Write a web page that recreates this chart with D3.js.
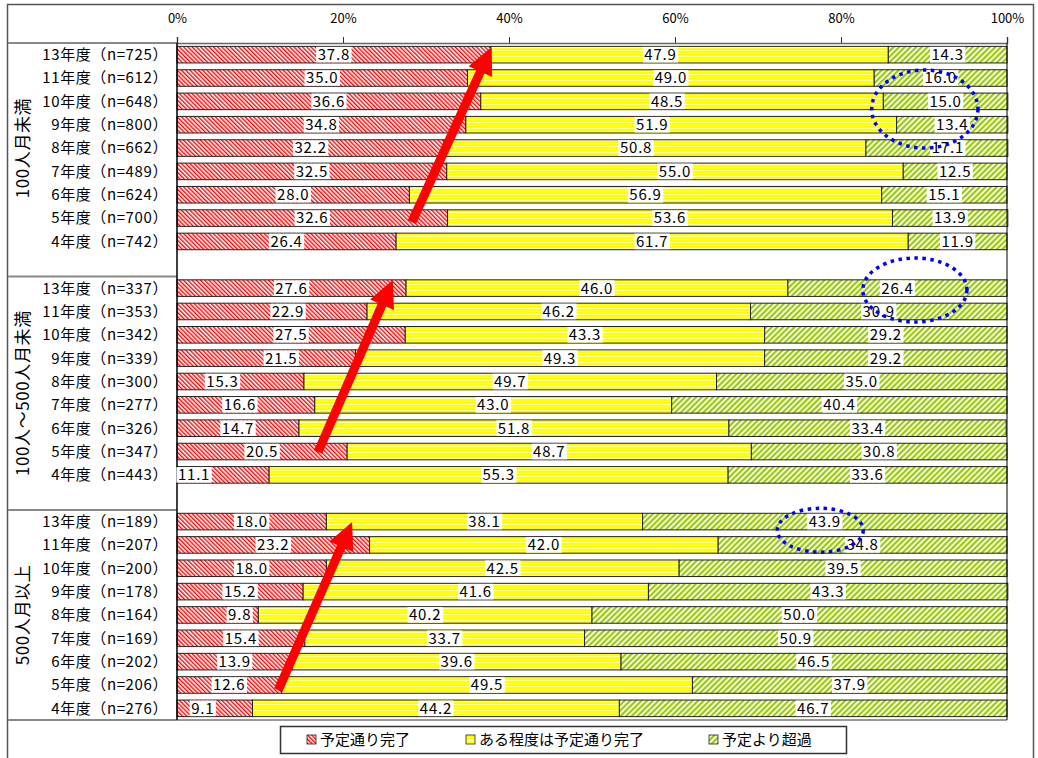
<!DOCTYPE html>
<html>
<head>
<meta charset="utf-8">
<script src="https://cdn.jsdelivr.net/npm/d3@7"></script>
<style>
  html, body { margin: 0; padding: 0; background: #fff; }
  svg { display: block; }
  text { font-family: "Noto Sans CJK JP", "Noto Sans", sans-serif; fill: #000; }
</style>
</head>
<body>
<svg id="chart" width="1038" height="758"></svg>
<script>
// ---- data ----
const years = ['13年度', '11年度', '10年度', '9年度', '8年度', '7年度', '6年度', '5年度', '4年度'];
const groupNames = ['100人月未満', '100人～500人月未満', '500人月以上'];
const seriesNames = ['予定通り完了', 'ある程度は予定通り完了', '予定より超過'];
const tickLabels = ['0%', '20%', '40%', '60%', '80%', '100%'];

// 100人月未満
const nSmall = [725, 612, 648, 800, 662, 489, 624, 700, 742];
const doneSmall = [37.8, 35.0, 36.6, 34.8, 32.2, 32.5, 28.0, 32.6, 26.4];
const partlySmall = [47.9, 49.0, 48.5, 51.9, 50.8, 55.0, 56.9, 53.6, 61.7];
const overSmall = [14.3, 16.0, 15.0, 13.4, 17.1, 12.5, 15.1, 13.9, 11.9];

// 100人～500人月未満
const nMid = [337, 353, 342, 339, 300, 277, 326, 347, 443];
const doneMid = [27.6, 22.9, 27.5, 21.5, 15.3, 16.6, 14.7, 20.5, 11.1];
const partlyMid = [46.0, 46.2, 43.3, 49.3, 49.7, 43.0, 51.8, 48.7, 55.3];
const overMid = [26.4, 30.9, 29.2, 29.2, 35.0, 40.4, 33.4, 30.8, 33.6];

// 500人月以上
const nLarge = [189, 207, 200, 178, 164, 169, 202, 206, 276];
const doneLarge = [18.0, 23.2, 18.0, 15.2, 9.8, 15.4, 13.9, 12.6, 9.1];
const partlyLarge = [38.1, 42.0, 42.5, 41.6, 40.2, 33.7, 39.6, 49.5, 44.2];
const overLarge = [43.9, 34.8, 39.5, 43.3, 50.0, 50.9, 46.5, 37.9, 46.7];

// annotations: arrows [fromPct, fromRow, toPct, toRow], ellipses [cxPct, cyRow, rxPct, ryRow]
const arrows = [
  [28.3, 7.67, 37.9, 0.17],
  [17.0, 17.52, 26.0, 10.15],
  [12.2, 27.72, 21.1, 20.52]
];
const rings = [
  [90.1, 2.83, 6.4, 1.67],
  [88.9, 10.58, 6.27, 1.37],
  [77.5, 20.87, 5.18, 0.94]
];

// hand-placed data labels: key "group-row-series" -> horizontal shift in px
const labelShift = {
  '0-0-1': -29, '0-2-1': -15, '0-3-1': -29, '0-4-1': -19, '0-4-2': 11,
  '1-1-0': 16, '1-3-0': 15, '1-4-0': -18, '1-5-0': -6, '1-8-0': -29,
  '2-4-0': 22, '2-8-0': -12
};

// ---- assemble rows ----
const groupData = [
  { n: nSmall, s: [doneSmall, partlySmall, overSmall] },
  { n: nMid, s: [doneMid, partlyMid, overMid] },
  { n: nLarge, s: [doneLarge, partlyLarge, overLarge] }
];
const rows = [];
groupData.forEach((g, gi) => {
  years.forEach((yr, i) => {
    rows.push({
      g: gi, i,
      row: gi * 10 + i,
      label: `${yr}（n=${g.n[i]}）`,
      values: g.s.map(arr => arr[i])
    });
  });
});

// ---- layout ----
const svg = d3.select('#chart');
const plotL = 177, plotR = 1007, plotT = 43, plotB = 720;
const nRows = 29;

const x = d3.scaleLinear().domain([0, 100]).range([plotL, plotR]);
const yBand = d3.scaleBand().domain(d3.range(nRows)).range([plotT, plotB])
  .paddingInner(0.29).paddingOuter(0.145);
const yRow = d3.scaleLinear().domain([0, nRows]).range([plotT, plotB]);

// ---- patterns ----
const defs = svg.append('defs');
const pRed = defs.append('pattern').attr('id', 'pRed').attr('patternUnits', 'userSpaceOnUse')
  .attr('width', 3).attr('height', 3).attr('patternTransform', 'rotate(-45)');
pRed.append('rect').attr('width', 3).attr('height', 3).attr('fill', '#fff');
pRed.append('rect').attr('width', 1.4).attr('height', 3).attr('fill', '#ff0000');

const pYel = defs.append('pattern').attr('id', 'pYel').attr('patternUnits', 'userSpaceOnUse')
  .attr('width', 4).attr('height', 3);
pYel.append('rect').attr('width', 4).attr('height', 3).attr('fill', '#ffff00');
pYel.append('rect').attr('y', 2).attr('width', 4).attr('height', 1).attr('fill', '#ffffb0');

const pGrn = defs.append('pattern').attr('id', 'pGrn').attr('patternUnits', 'userSpaceOnUse')
  .attr('width', 4).attr('height', 4).attr('patternTransform', 'rotate(45)');
pGrn.append('rect').attr('width', 4).attr('height', 4).attr('fill', '#fff');
pGrn.append('rect').attr('width', 2.2).attr('height', 4).attr('fill', '#99cc00');

const fills = ['url(#pRed)', 'url(#pYel)', 'url(#pGrn)'];

// ---- outer frame ----
svg.append('rect').attr('x', 7.5).attr('y', 4.5).attr('width', 1026).attr('height', 800)
  .attr('fill', '#fff').attr('stroke', '#555').attr('stroke-width', 1.5);

// ---- value axis on top ----
const xAxis = d3.axisTop(x).tickValues(d3.range(0, 101, 20)).tickSize(6)
  .tickFormat((d, i) => tickLabels[i]);
const axG = svg.append('g').attr('transform', `translate(0,${plotT})`).call(xAxis);
axG.select('.domain').attr('stroke', '#666').attr('stroke-width', 1.5);
axG.selectAll('.tick line').attr('stroke', '#333');
axG.selectAll('.tick text').attr('y', -20).attr('font-size', 13)
  .attr('font-family', '"Noto Sans CJK JP", sans-serif').attr('fill', '#000');

// ---- group separators in the label column ----
[0, 10, 20, 29].forEach(r => {
  svg.append('line').attr('x1', 8).attr('x2', plotL)
    .attr('y1', yRow(r)).attr('y2', yRow(r))
    .attr('stroke', '#888').attr('stroke-width', 2);
});
svg.append('line').attr('x1', plotL).attr('x2', plotR).attr('y1', plotB).attr('y2', plotB)
  .attr('stroke', '#777').attr('stroke-width', 1.5);

// ---- bars ----
const segs = rows.flatMap(r => {
  let acc = 0;
  return r.values.map((v, k) => {
    const s = { g: r.g, i: r.i, row: r.row, k, v, x0: acc, x1: acc + v };
    acc += v;
    return s;
  });
});

svg.append('g').selectAll('rect').data(segs).join('rect')
  .attr('x', d => x(d.x0)).attr('width', d => x(d.x1) - x(d.x0))
  .attr('y', d => yBand(d.row)).attr('height', yBand.bandwidth())
  .attr('fill', d => fills[d.k]).attr('stroke', '#222').attr('stroke-width', 1);

// axis lines of the plot box
svg.append('line').attr('x1', plotL).attr('x2', plotL).attr('y1', plotT).attr('y2', plotB)
  .attr('stroke', '#000').attr('stroke-width', 1.5);
svg.append('line').attr('x1', plotR).attr('x2', plotR).attr('y1', plotT).attr('y2', plotB)
  .attr('stroke', '#000').attr('stroke-width', 1);

// ---- value labels with white boxes ----
const lblG = svg.append('g');
segs.forEach(d => {
  const cx = x((d.x0 + d.x1) / 2) + (labelShift[`${d.g}-${d.i}-${d.k}`] || 0);
  const cy = yBand(d.row) + yBand.bandwidth() / 2;
  const g = lblG.append('g');
  const t = g.append('text').attr('x', cx).attr('y', cy).attr('dy', '0.36em')
    .attr('text-anchor', 'middle').attr('font-size', 15).attr('letter-spacing', 0.8)
    .text(d.v.toFixed(1));
  const w = t.node().getComputedTextLength();
  g.insert('rect', 'text').attr('x', cx - w / 2 - 1.5).attr('width', w + 3)
    .attr('y', yBand(d.row) + 0.5).attr('height', yBand.bandwidth() - 1).attr('fill', '#fff');
});

// ---- row labels ----
svg.append('g').selectAll('text').data(rows).join('text')
  .attr('x', 168).attr('y', d => yBand(d.row) + yBand.bandwidth() / 2).attr('dy', '0.36em')
  .attr('text-anchor', 'end').attr('font-size', 15).attr('letter-spacing', 0.6)
  .text(d => d.label);

// ---- group labels (vertical) ----
const groupSpans = [[0, 9], [10, 20], [20, 29]];
groupNames.forEach((name, i) => {
  const cy = (yRow(groupSpans[i][0]) + yRow(groupSpans[i][1])) / 2;
  svg.append('text').attr('transform', `translate(23,${cy}) rotate(-90)`)
    .attr('dy', '0.36em').attr('text-anchor', 'middle').attr('font-size', 17)
    .attr('letter-spacing', 0.6)
    .text(name);
});

// ---- arrows ----
function arrowPath(a) {
  const x1 = x(a[0]), y1 = yRow(a[1]), x2 = x(a[2]), y2 = yRow(a[3]);
  const len = Math.hypot(x2 - x1, y2 - y1);
  const ux = (x2 - x1) / len, uy = (y2 - y1) / len;
  const px = -uy, py = ux;
  const sw = 4.5, hw = 13, hl = 27;
  const bx = x2 - ux * hl, by = y2 - uy * hl;
  const pts = [
    [x1 + px * sw, y1 + py * sw], [bx + px * sw, by + py * sw], [bx + px * hw, by + py * hw],
    [x2, y2],
    [bx - px * hw, by - py * hw], [bx - px * sw, by - py * sw], [x1 - px * sw, y1 - py * sw]
  ];
  return 'M' + pts.map(p => p.join(',')).join('L') + 'Z';
}
svg.append('g').selectAll('path').data(arrows).join('path')
  .attr('d', arrowPath).attr('fill', '#ff0000');

// ---- dotted rings ----
svg.append('g').selectAll('ellipse').data(rings).join('ellipse')
  .attr('cx', d => x(d[0])).attr('cy', d => yRow(d[1]))
  .attr('rx', d => x(d[2]) - x(0)).attr('ry', d => yRow(d[3]) - yRow(0))
  .attr('fill', 'none').attr('stroke', '#0000ff').attr('stroke-width', 3.5)
  .attr('stroke-dasharray', '3.5 4.5');

// ---- legend ----
const lg = svg.append('g');
lg.append('rect').attr('x', 280.5).attr('y', 726.5).attr('width', 566).attr('height', 27)
  .attr('fill', '#fff').attr('stroke', '#333').attr('stroke-width', 1.5);
const legendX = [307, 466, 709];
seriesNames.forEach((name, i) => {
  lg.append('rect').attr('x', legendX[i]).attr('y', 735).attr('width', 9).attr('height', 9)
    .attr('fill', fills[i]).attr('stroke', '#222').attr('stroke-width', 0.8);
  lg.append('text').attr('x', legendX[i] + 13).attr('y', 740).attr('dy', '0.36em')
    .attr('font-size', 15).text(name);
});
</script>
</body>
</html>
